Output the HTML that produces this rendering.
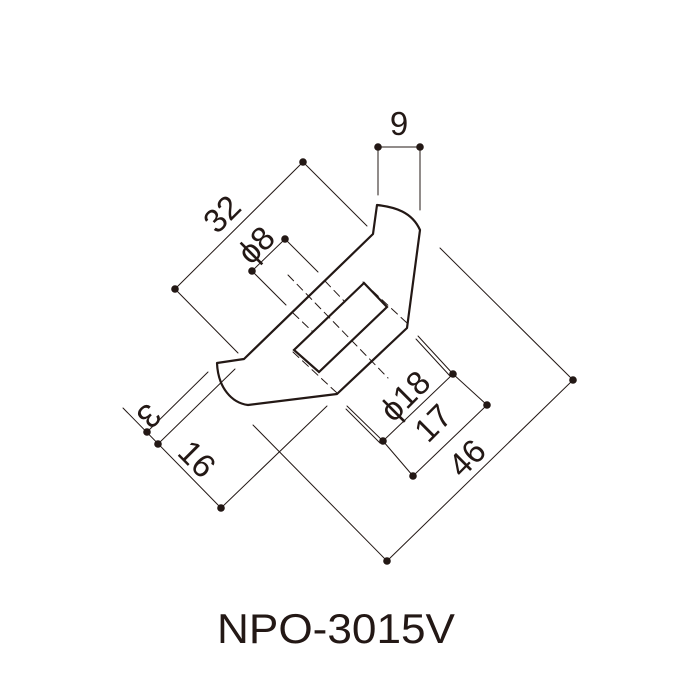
<!DOCTYPE html>
<html><head><meta charset="utf-8"><style>
html,body{margin:0;padding:0;background:#fff;}
svg{display:block;}
text{font-family:"Liberation Sans",sans-serif;fill:#231815;}
</style></head><body>
<svg width="690" height="690" viewBox="0 0 690 690" xmlns="http://www.w3.org/2000/svg">
<g stroke="#231815" fill="none" stroke-linecap="round">
<path d="M377,205 C395,207 412,212 420,230 L407,328 L337,394 L248,405 C232,403 218,388 217,363 L244,359 L373,234 Z" stroke-width="2.2" stroke-linejoin="round"/>
<path d="M364,283 L387,307 L319,372 L294,350 Z" stroke-width="2.2"/>
<g stroke-width="1" stroke-dasharray="8,5">
<line x1="288" y1="275" x2="388" y2="378"/>
<line x1="325" y1="281" x2="345" y2="302"/>
<line x1="293" y1="313" x2="313" y2="332"/>
<line x1="363" y1="282" x2="407" y2="323"/>
<line x1="293" y1="352" x2="337" y2="393"/>
</g>
<g stroke-width="1">
<line x1="303" y1="162" x2="175" y2="289"/>
<line x1="303" y1="162" x2="367" y2="226"/>
<line x1="175" y1="289" x2="238" y2="353"/>
<line x1="285" y1="239" x2="252" y2="271"/>
<line x1="285" y1="239" x2="318" y2="272"/>
<line x1="252" y1="271" x2="286" y2="305"/>
<line x1="378" y1="147" x2="420" y2="147"/>
<line x1="378" y1="147" x2="378" y2="195"/>
<line x1="420" y1="147" x2="420" y2="210"/>
<line x1="573" y1="380" x2="387" y2="561"/>
<line x1="573" y1="380" x2="440" y2="248"/>
<line x1="387" y1="561" x2="253" y2="425"/>
<line x1="453" y1="374" x2="383" y2="441"/>
<line x1="453" y1="374" x2="418" y2="336"/>
<line x1="450" y1="376" x2="416" y2="339"/>
<line x1="383" y1="441" x2="347" y2="406"/>
<line x1="380" y1="443" x2="346" y2="409"/>
<line x1="453" y1="374" x2="487" y2="405"/>
<line x1="383" y1="441" x2="413" y2="476"/>
<line x1="487" y1="405" x2="413" y2="476"/>
<line x1="123" y1="408" x2="221" y2="508"/>
<line x1="147" y1="432" x2="208" y2="372"/>
<line x1="158" y1="444" x2="235" y2="369"/>
<line x1="221" y1="508" x2="327" y2="406"/>
</g>
</g>
<g fill="#231815">
<circle cx="303" cy="162" r="3.8"/><circle cx="175" cy="289" r="3.8"/>
<circle cx="285" cy="239" r="3.8"/><circle cx="252" cy="271" r="3.8"/>
<circle cx="378" cy="147" r="3.8"/><circle cx="420" cy="147" r="3.8"/>
<circle cx="573" cy="380" r="3.8"/><circle cx="387" cy="561" r="3.8"/>
<circle cx="453" cy="374" r="3.8"/><circle cx="383" cy="441" r="3.8"/>
<circle cx="487" cy="405" r="3.8"/><circle cx="413" cy="476" r="3.8"/>
<circle cx="147" cy="432" r="3.8"/><circle cx="158" cy="444" r="3.8"/>
<circle cx="221" cy="508" r="3.8"/>
</g>
<g font-size="33" text-anchor="middle">
<text x="399" y="135">9</text>
<text transform="translate(230,222) rotate(-45)">32</text>
<text transform="translate(264,253) rotate(-45)">ϕ8</text>
<text transform="translate(413,404) rotate(-45)">ϕ18</text>
<text transform="translate(441,431) rotate(-45)">17</text>
<text transform="translate(475,466) rotate(-45)">46</text>
<text transform="translate(141,408) rotate(135)">3</text>
<text transform="translate(189,467) rotate(45)">16</text>
</g>
<text x="217" y="643" font-size="42" textLength="238" lengthAdjust="spacingAndGlyphs">NPO-3015V</text>
</svg>
</body></html>
